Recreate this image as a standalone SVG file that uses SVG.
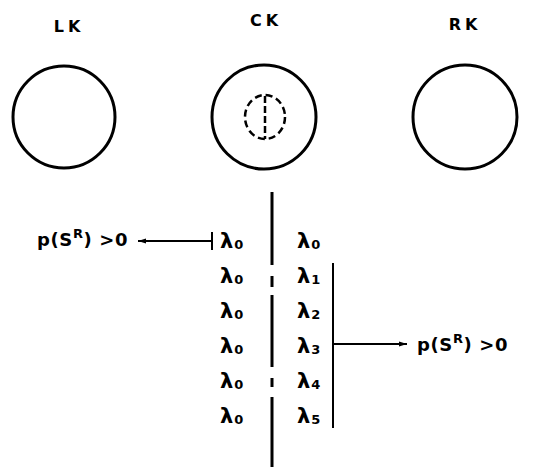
<svg xmlns="http://www.w3.org/2000/svg" width="538" height="468" viewBox="0 0 538 468">
<style>
text{font-family:"DejaVu Sans","Liberation Sans",Arial,sans-serif;font-weight:bold;fill:#000}
.lbl{font-size:16px;letter-spacing:4px}
.lam{font-size:21px}
.sub{font-size:13px}
.p{font-size:18px;letter-spacing:0.6px}
.k{fill:none;stroke:#000;stroke-width:3}
.ln{fill:none;stroke:#000;stroke-width:2}
.th{fill:none;stroke:#000;stroke-width:3}
</style>
<defs>
<marker id="ah" viewBox="0 0 10 10" refX="10" refY="5" markerWidth="8" markerHeight="8" markerUnits="userSpaceOnUse" orient="auto"><path d="M0,2 L10,5 L0,8 Z" fill="#000"/></marker>
</defs>
<rect width="538" height="468" fill="#fff"/>
<g id="LK"><text class="lbl" x="69" y="32" text-anchor="middle">LK</text><circle class="k" cx="64" cy="117" r="51"/></g>
<g id="CK"><text class="lbl" x="266" y="26" text-anchor="middle">CK</text><circle class="k" cx="264" cy="117" r="52"/>
<ellipse cx="265" cy="117" rx="20" ry="22" fill="none" stroke="#000" stroke-width="2.5" stroke-dasharray="7,4"/>
<line x1="265" y1="96" x2="265" y2="139" stroke="#000" stroke-width="2.5" stroke-dasharray="7,3"/></g>
<g id="RK"><text class="lbl" x="465" y="30" text-anchor="middle">RK</text><circle class="k" cx="465" cy="117" r="52"/></g>
<g id="connectors">
<path class="th" d="M272,192V265M272,276V287M272,295V367M272,378V387M272,397V467"/>
<line class="ln" x1="212" y1="232" x2="212" y2="250"/>
<line class="ln" x1="212" y1="241" x2="138" y2="241" marker-end="url(#ah)"/>
<line class="ln" x1="333" y1="263" x2="333" y2="428"/>
<line class="ln" x1="333" y1="344" x2="407" y2="344" marker-end="url(#ah)"/>
</g>
<g id="left-col">
<text class="lam" x="220" y="248">λ<tspan class="sub" dx="1" dy="1">0</tspan></text>
<text class="lam" x="220" y="283">λ<tspan class="sub" dx="1" dy="1">0</tspan></text>
<text class="lam" x="220" y="318">λ<tspan class="sub" dx="1" dy="1">0</tspan></text>
<text class="lam" x="220" y="353">λ<tspan class="sub" dx="1" dy="1">0</tspan></text>
<text class="lam" x="220" y="388">λ<tspan class="sub" dx="1" dy="1">0</tspan></text>
<text class="lam" x="220" y="423">λ<tspan class="sub" dx="1" dy="1">0</tspan></text>
</g>
<g id="right-col">
<text class="lam" x="297" y="248">λ<tspan class="sub" dx="1" dy="1">0</tspan></text>
<text class="lam" x="297" y="283">λ<tspan class="sub" dx="1" dy="1">1</tspan></text>
<text class="lam" x="297" y="318">λ<tspan class="sub" dx="1" dy="1">2</tspan></text>
<text class="lam" x="297" y="353">λ<tspan class="sub" dx="1" dy="1">3</tspan></text>
<text class="lam" x="297" y="388">λ<tspan class="sub" dx="1" dy="1">4</tspan></text>
<text class="lam" x="297" y="423">λ<tspan class="sub" dx="1" dy="1">5</tspan></text>
</g>
<g id="p-left"><text class="p" x="37" y="246">p(S<tspan font-size="13" dy="-8">R</tspan><tspan dy="8">) &gt;0</tspan></text></g>
<g id="p-right"><text class="p" x="417" y="351">p(S<tspan font-size="13" dy="-8">R</tspan><tspan dy="8">) &gt;0</tspan></text></g>
</svg>
